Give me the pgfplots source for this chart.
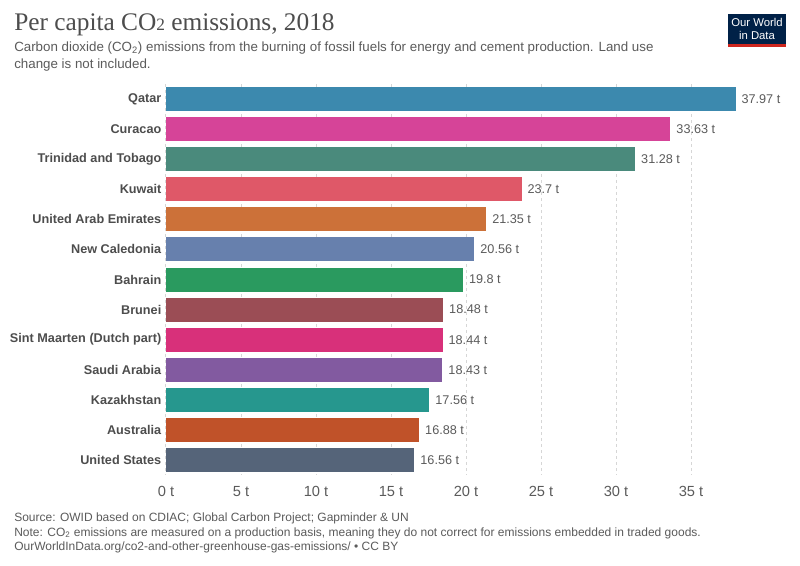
\documentclass[border=0pt]{standalone}
\usepackage{pgfplots}
\pgfplotsset{compat=1.18}
\usepackage{fontspec}
\setmainfont{Liberation Sans}
\newfontfamily\titlefont{Liberation Serif}
\definecolor{cQa}{HTML}{3C89AE}
\definecolor{cCu}{HTML}{D64498}
\definecolor{cTT}{HTML}{4A8A7C}
\definecolor{cKu}{HTML}{DF5868}
\definecolor{cUA}{HTML}{CC7139}
\definecolor{cNC}{HTML}{6780AD}
\definecolor{cBa}{HTML}{2A9A5F}
\definecolor{cBr}{HTML}{9B4D55}
\definecolor{cSM}{HTML}{D8307A}
\definecolor{cSA}{HTML}{825AA0}
\definecolor{cKa}{HTML}{26978E}
\definecolor{cAu}{HTML}{C05229}
\definecolor{cUS}{HTML}{556479}
\definecolor{txtdark}{HTML}{4D4D4D}
\definecolor{txtgray}{HTML}{5B5B5B}
\definecolor{gridc}{HTML}{D6D6D6}
\definecolor{owidnavy}{HTML}{002147}
\definecolor{owidred}{HTML}{CE261E}
\begin{document}
\begin{tikzpicture}
\fill[white] (0,0) rectangle (600pt,-423.75pt);
% title
\node[anchor=base west, inner sep=0, text=txtdark, font=\titlefont\fontsize{19}{21}\selectfont] at (10.5pt,-22.5pt) {Per capita CO{\fontsize{13}{13}\selectfont 2} emissions, 2018};
\node[anchor=base west, inner sep=0, text=txtgray, font=\fontsize{10}{12}\selectfont] at (10.5pt,-38.25pt) {Carbon dioxide (CO\textsubscript{2}) emissions from the burning of fossil fuels for energy and cement production. Land use};
\node[anchor=base west, inner sep=0, text=txtgray, font=\fontsize{10}{12}\selectfont] at (10.5pt,-51pt) {change is not included.};
% logo
\fill[owidnavy] (546pt,-10.5pt) rectangle (589.5pt,-35.25pt);
\fill[owidred] (546pt,-33pt) rectangle (589.5pt,-35.25pt);
\node[text=white, inner sep=0, align=center, font=\fontsize{8.5}{9.5}\selectfont] at (567.75pt,-21.5pt) {Our World\\in Data};
\begin{axis}[
  at={(124.5pt,-356.25pt)}, anchor=south west,
  scale only axis, width=427.5pt, height=293.25pt,
  xbar, bar width=18pt, bar shift=0pt,
  xmin=0, xmax=38, ymin=-0.5, ymax=12.5, y dir=reverse,
  axis line style={draw=none}, clip=false,
  xtick={0,5,...,35}, ytick={0,...,12},
  yticklabels={Qatar,Curacao,Trinidad and Tobago,Kuwait,United Arab Emirates,New Caledonia,Bahrain,Brunei,Sint Maarten (Dutch part),Saudi Arabia,Kazakhstan,Australia,United States},
  xticklabel={\pgfmathprintnumber{\tick} t},
  /pgf/number format/assume math mode=true,
  major tick length=0pt,
  xmajorgrids, major grid style={color=gridc, line width=0.75pt, dash pattern=on 2.25pt off 2.25pt},
  xticklabel style={font=\fontsize{11}{12}\selectfont, text=txtgray, yshift=-5pt},
  yticklabel style={font=\bfseries\fontsize{9.5}{11}\selectfont, text=txtdark},
  point meta=explicit symbolic,
  nodes near coords,
  every node near coord/.append style={font=\fontsize{9.5}{11}\selectfont, text=txtgray, anchor=west, xshift=1pt},
  every axis plot/.append style={draw=none},
]
\addplot[fill=cQa] coordinates {(37.97,0) [37.97 t]};
\addplot[fill=cCu] coordinates {(33.63,1) [33.63 t]};
\addplot[fill=cTT] coordinates {(31.28,2) [31.28 t]};
\addplot[fill=cKu] coordinates {(23.7,3) [23.7 t]};
\addplot[fill=cUA] coordinates {(21.35,4) [21.35 t]};
\addplot[fill=cNC] coordinates {(20.56,5) [20.56 t]};
\addplot[fill=cBa] coordinates {(19.8,6) [19.8 t]};
\addplot[fill=cBr] coordinates {(18.48,7) [18.48 t]};
\addplot[fill=cSM] coordinates {(18.44,8) [18.44 t]};
\addplot[fill=cSA] coordinates {(18.43,9) [18.43 t]};
\addplot[fill=cKa] coordinates {(17.56,10) [17.56 t]};
\addplot[fill=cAu] coordinates {(16.88,11) [16.88 t]};
\addplot[fill=cUS] coordinates {(16.56,12) [16.56 t]};
\end{axis}
% footer
\node[anchor=base west, inner sep=0, text=txtgray, font=\fontsize{9}{10}\selectfont] at (10.5pt,-390.75pt) {Source: OWID based on CDIAC; Global Carbon Project; Gapminder \& UN};
\node[anchor=base west, inner sep=0, text=txtgray, font=\fontsize{9}{10}\selectfont] at (10.5pt,-402pt) {Note: CO\textsubscript{2} emissions are measured on a production basis, meaning they do not correct for emissions embedded in traded goods.};
\node[anchor=base west, inner sep=0, text=txtgray, font=\fontsize{9}{10}\selectfont] at (10.5pt,-412.5pt) {OurWorldInData.org/co2-and-other-greenhouse-gas-emissions/ • CC BY};
\end{tikzpicture}
\end{document}
